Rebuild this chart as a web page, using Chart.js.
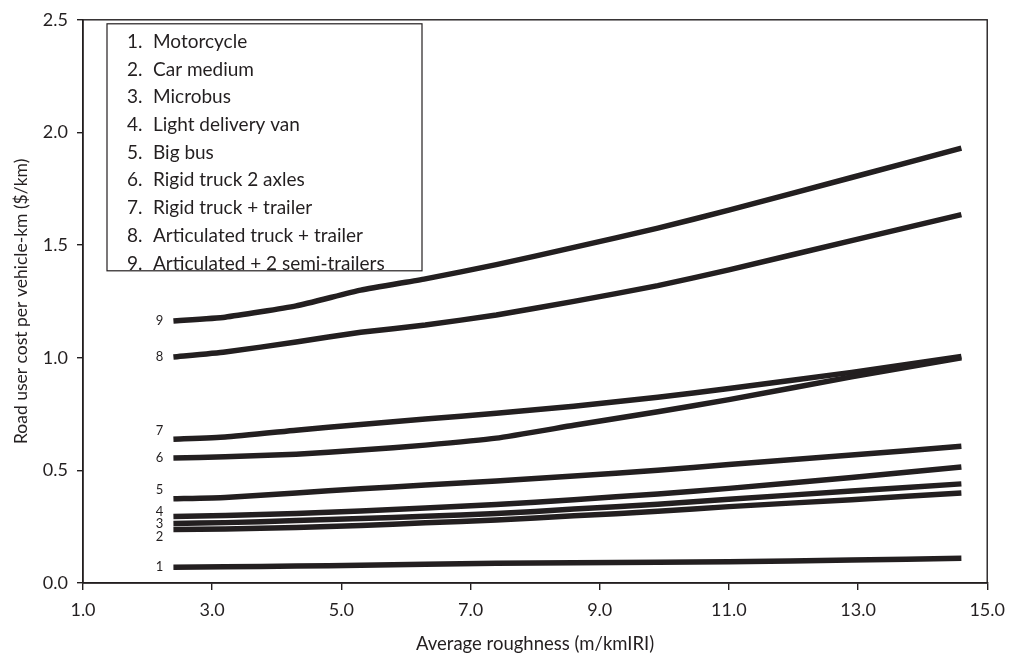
<!DOCTYPE html>
<html>
<head>
<meta charset="utf-8">
<script src="https://cdn.jsdelivr.net/npm/chart.js@4/dist/chart.umd.min.js"></script>
<style>
  html, body { margin: 0; padding: 0; background: #ffffff; }
  #wrap { width: 1014px; height: 657px; }
</style>
</head>
<body>
<div id="wrap"><canvas id="c" width="1014" height="657"></canvas></div>
<script>
// Roughness values (m/km IRI) at which costs were read
const roughness = [2.4, 3.2, 4.3, 5.3, 6.3, 7.4, 8.6, 9.9, 11.0, 12.9, 14.6];

const seriesNames = [
  "Motorcycle",
  "Car medium",
  "Microbus",
  "Light delivery van",
  "Big bus",
  "Rigid truck 2 axles",
  "Rigid truck + trailer",
  "Articulated truck + trailer",
  "Articulated + 2 semi-trailers"
];

const motorcycle   = [0.070, 0.072, 0.075, 0.079, 0.083, 0.088, 0.090, 0.092, 0.094, 0.102, 0.110];
const carMedium    = [0.237, 0.240, 0.246, 0.255, 0.267, 0.280, 0.298, 0.318, 0.339, 0.370, 0.400];
const microbus     = [0.264, 0.268, 0.277, 0.286, 0.296, 0.308, 0.328, 0.350, 0.372, 0.408, 0.440];
const lightVan     = [0.295, 0.300, 0.308, 0.320, 0.333, 0.348, 0.370, 0.395, 0.420, 0.468, 0.515];
const bigBus       = [0.374, 0.380, 0.400, 0.418, 0.435, 0.453, 0.475, 0.500, 0.526, 0.568, 0.607];
const rigid2       = [0.555, 0.560, 0.572, 0.590, 0.612, 0.643, 0.700, 0.760, 0.814, 0.915, 1.000];
const rigidTrailer = [0.638, 0.648, 0.678, 0.704, 0.728, 0.753, 0.785, 0.825, 0.863, 0.935, 1.005];
const artTrailer   = [1.003, 1.025, 1.070, 1.113, 1.145, 1.190, 1.250, 1.320, 1.390, 1.520, 1.635];
const art2Semi     = [1.163, 1.180, 1.230, 1.300, 1.350, 1.413, 1.490, 1.575, 1.655, 1.800, 1.930];

const seriesValues = [motorcycle, carMedium, microbus, lightVan, bigBus, rigid2, rigidTrailer, artTrailer, art2Semi];

const xTicks = [1, 3, 5, 7, 9, 11, 13, 15];
const yTicks = [0, 0.5, 1.0, 1.5, 2.0, 2.5];

const xTitle = "Average roughness (m/kmIRI)";
const yTitle = "Road user cost per vehicle-km ($/km)";

const INK = "#231f20";
const FONT = "Lato, 'Open Sans', sans-serif";

const datasets = seriesValues.map((vals, i) => ({
  label: (i + 1) + ". " + seriesNames[i],
  data: vals.map((v, k) => ({ x: roughness[k], y: v })),
  borderColor: INK,
  backgroundColor: INK,
  borderWidth: 5.5,
  pointRadius: 0,
  tension: 0.15,
  borderCapStyle: "butt",
  fill: false
}));

// vertical nudges for the small number labels near line starts (pixels)
const numLabelDy = [0, 7, 0, -5, -9, 0, -8, 0, 0];

const framePlugin = {
  id: "frame",
  afterDraw(chart) {
    const ctx = chart.ctx;
    const a = chart.chartArea;
    ctx.save();
    ctx.strokeStyle = INK;
    ctx.lineWidth = 1.4;
    ctx.strokeRect(a.left, a.top, a.right - a.left, a.bottom - a.top);

    // number labels beside the line starts
    ctx.fillStyle = INK;
    ctx.font = "13px " + FONT;
    ctx.textAlign = "center";
    ctx.textBaseline = "middle";
    const xs = chart.scales.x, ys = chart.scales.y;
    seriesValues.forEach((vals, i) => {
      const px = xs.getPixelForValue(roughness[0]) - 14;
      const py = ys.getPixelForValue(vals[0]) + numLabelDy[i];
      ctx.fillText(String(i + 1), px, py);
    });

    // legend box
    const x0 = a.left + 24, y0 = a.top + 4, w = 315, h = 247;
    ctx.fillStyle = "#ffffff";
    ctx.fillRect(x0, y0, w, h);
    ctx.lineWidth = 1.2;
    ctx.strokeRect(x0, y0, w, h);
    ctx.fillStyle = INK;
    ctx.font = "19px " + FONT;
    ctx.textAlign = "left";
    seriesNames.forEach((name, i) => {
      const y = y0 + 18 + i * 27.7;
      ctx.fillText((i + 1) + ".", x0 + 20, y);
      ctx.fillText(name, x0 + 46, y);
    });
    ctx.restore();
  }
};

new Chart(document.getElementById("c"), {
  type: "line",
  data: { datasets },
  options: {
    responsive: false,
    animation: false,
    layout: { padding: { left: 0, top: 15, right: 18, bottom: 0 } },
    plugins: { legend: { display: false }, tooltip: { enabled: false } },
    scales: {
      x: {
        type: "linear",
        min: 1, max: 15,
        afterBuildTicks: s => { s.ticks = xTicks.map(v => ({ value: v })); },
        afterFit: s => { s.height = 74; },
        ticks: {
          color: INK,
          font: { family: FONT, size: 18 },
          padding: 9,
          maxRotation: 0,
          callback: v => Number(v).toFixed(1)
        },
        grid: { drawOnChartArea: false, drawTicks: true, tickLength: 7, color: INK, lineWidth: 1.4 },
        border: { display: true, color: INK, width: 1.4 },
        title: { display: true, text: xTitle, color: INK, font: { family: FONT, size: 18.5 }, padding: { top: 0, bottom: 2 } }
      },
      y: {
        type: "linear",
        min: 0, max: 2.5,
        afterBuildTicks: s => { s.ticks = yTicks.map(v => ({ value: v })); },
        afterFit: s => { s.width = 83; },
        ticks: {
          color: INK,
          font: { family: FONT, size: 18 },
          padding: 9,
          callback: v => Number(v).toFixed(1)
        },
        grid: { drawOnChartArea: false, drawTicks: true, tickLength: 6, color: INK, lineWidth: 1.4 },
        border: { display: true, color: INK, width: 1.4 },
        title: { display: true, text: yTitle, color: INK, font: { family: FONT, size: 17.5 }, padding: { top: 11, bottom: 0 } }
      }
    }
  },
  plugins: [framePlugin]
});
</script>
</body>
</html>
